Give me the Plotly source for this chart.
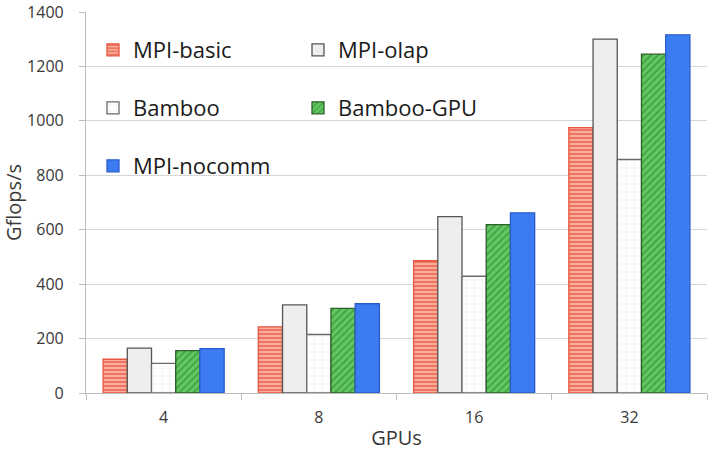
import plotly.graph_objects as go

gpus = ["4", "8", "16", "32"]
mpi_basic = [124, 243, 486, 975]
mpi_olap = [165, 324, 648, 1300]
bamboo = [109, 215, 429, 858]
bamboo_gpu = [156, 311, 619, 1245]
mpi_nocomm = [163, 328, 662, 1316]

FONT = "Open Sans"
TXT = "#383838"

W, H = 719, 451
L, R, T, B = 86, 12, 12, 58
pw, ph = W - L - R, H - T - B

def px2x(px):
    return (px - L) / pw

def py2y(py):
    return 1 - (py - T) / ph

series = [
    dict(name="MPI-basic", y=mpi_basic, color="#f7ad9c",
         pattern=dict(shape="-", fgcolor="#e63a26", size=4, solidity=0.5),
         line="#e8563f", legend="legend", lx=93, ly=50),
    dict(name="MPI-olap", y=mpi_olap, color="#eeeeee",
         pattern=None, line="#555555", legend="legend2", lx=298, ly=50),
    dict(name="Bamboo", y=bamboo, color="#ffffff",
         pattern=dict(shape="+", fgcolor="#cfcfcf", size=8, solidity=0.12),
         line="#6a6a6a", legend="legend3", lx=93, ly=108),
    dict(name="Bamboo-GPU", y=bamboo_gpu, color="#62c862",
         pattern=dict(shape="/", fgcolor="#237a23", size=5, solidity=0.35),
         line="#2b5f2b", legend="legend4", lx=298, ly=108),
    dict(name="MPI-nocomm", y=mpi_nocomm, color="#3c7cf2",
         pattern=None, line="#2a5cc8", legend="legend5", lx=93, ly=166),
]

fig = go.Figure()
layout_legends = {}
for s in series:
    marker = dict(color=s["color"], line=dict(color=s["line"], width=1.3))
    if s["pattern"]:
        marker["pattern"] = s["pattern"]
    fig.add_trace(go.Bar(x=gpus, y=s["y"], name=s["name"], marker=marker,
                         legend=s["legend"]))
    layout_legends[s["legend"]] = dict(
        x=px2x(s["lx"]), xanchor="left", y=py2y(s["ly"]), yanchor="middle",
        bgcolor="rgba(0,0,0,0)", font=dict(family=FONT, size=22, color="#1a1a1a"),
    )

fig.update_layout(
    width=W, height=H,
    margin=dict(l=L, r=R, t=T, b=B),
    paper_bgcolor="white", plot_bgcolor="white",
    barmode="group", bargap=0.22, bargroupgap=0,
    font=dict(family=FONT, color=TXT),
    showlegend=True,
    **layout_legends,
)
fig.update_xaxes(
    type="category", showline=True, linecolor="#bdbdbd", linewidth=1.2,
    ticks="outside", tickson="boundaries", ticklen=6, tickcolor="#bdbdbd",
    tickfont=dict(size=16, color=TXT), ticklabelstandoff=10,
    title=dict(text="GPUs", font=dict(size=20, color=TXT), standoff=6),
    showgrid=False, automargin=False,
)
fig.update_yaxes(
    range=[0, 1400], dtick=200, showgrid=True, gridcolor="#d6d6d6", gridwidth=1.2,
    showline=True, linecolor="#bdbdbd", linewidth=1.2,
    ticks="outside", ticklen=6, tickcolor="#bdbdbd",
    tickfont=dict(size=16, color=TXT), ticklabelstandoff=12,
    title=dict(text="Gflops/s", font=dict(size=20, color=TXT), standoff=6),
    zeroline=False, automargin=False,
)

fig.write_html("out.html")
